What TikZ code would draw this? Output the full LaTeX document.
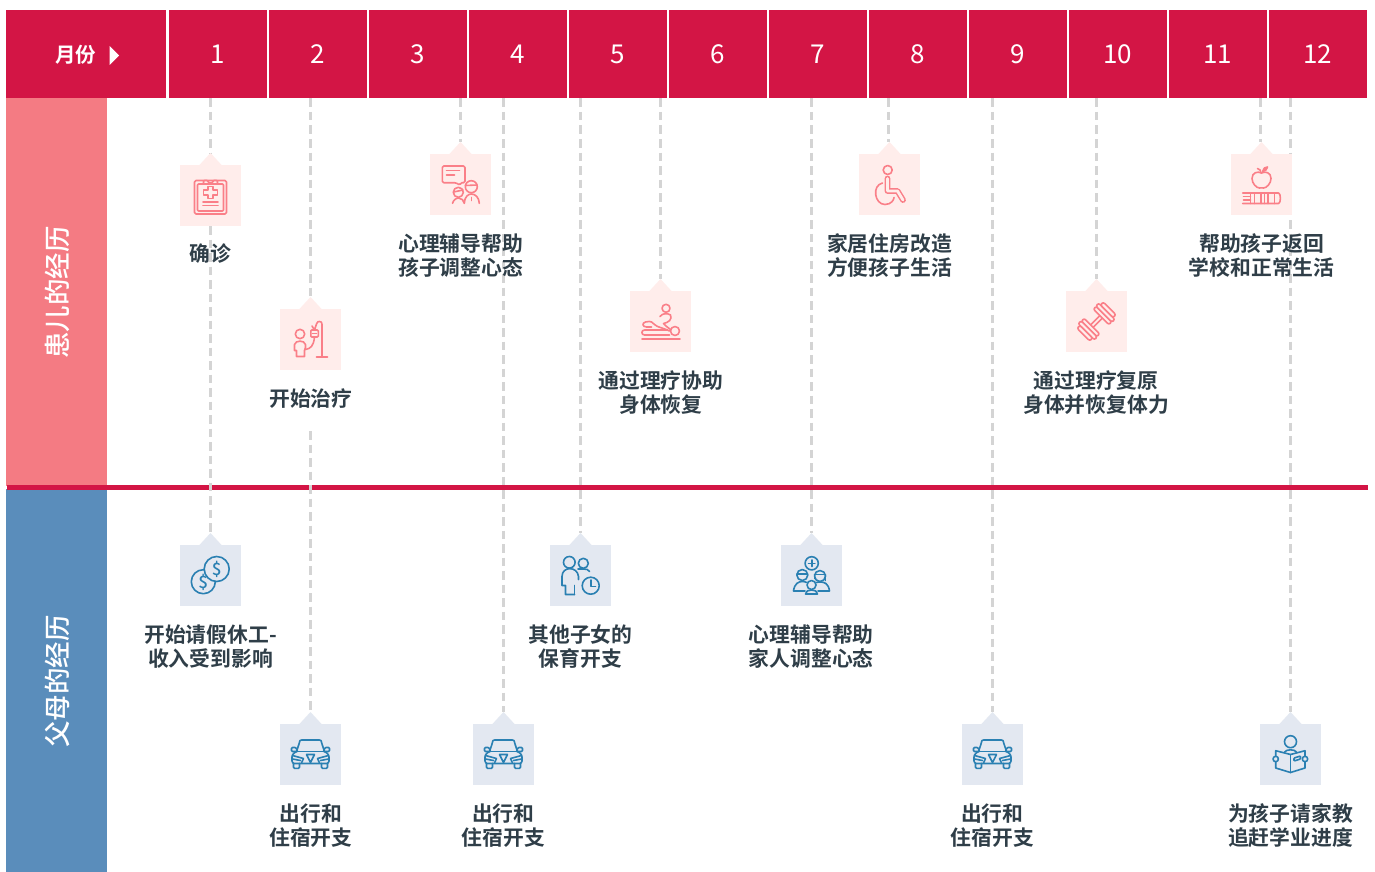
\documentclass[tikz,border=0pt]{standalone}
\usepackage{fontspec}
\setmainfont{Noto Sans CJK SC}
\newfontfamily\cjkb{Noto Sans CJK SC Bold}
\newfontfamily\cjkm{Noto Sans CJK SC Medium}
\definecolor{hdrred}{HTML}{D31545}
\definecolor{sidepink}{HTML}{F47B83}
\definecolor{sideblue}{HTML}{5A8DBB}
\definecolor{cardpink}{HTML}{FFEDEB}
\definecolor{cardblue}{HTML}{E3E8F1}
\definecolor{icpink}{HTML}{FA7F88}
\definecolor{icblue}{HTML}{2A80B2}
\definecolor{labtext}{HTML}{2F3E48}
\definecolor{dashgray}{HTML}{D4D4D4}
\tikzset{
 hcell/.style={fill=hdrred,draw=none,inner sep=0pt,text=white},
 sidetext/.style={text=white,rotate=90,font=\fontsize{26.5}{26.5}\selectfont\cjkm},
 conn/.style={draw=dashgray,line width=3pt,dash pattern=on 8.5pt off 5pt},
 cardbase/.style={rectangle,minimum width=61pt,minimum height=61pt,inner sep=0pt,draw=none},
 pinkcard/.style={cardbase,fill=cardpink},
 bluecard/.style={cardbase,fill=cardblue},
 lab/.style={text=labtext,align=center,font=\fontsize{20.8}{23.8}\selectfont\cjkb,inner sep=0pt},
 ic/.style={line width=1.6pt,line cap=round,line join=round,fill=none},
 pk/.style={ic,draw=icpink},
 bl/.style={ic,draw=icblue},
}
% card: name, cx, top, style, fill colour
\newcommand{\putcard}[5]{%
  \fill[#5] (#2-12,#3+1) -- (#2,#3-12) -- (#2+12,#3+1) -- cycle;
  \node[#4] (#1) at (#2,#3+30.5) {};
}
\begin{document}
\begin{tikzpicture}[x=1pt,y=-1pt]
\useasboundingbox (0,0) rectangle (1375,872);
\fill[white] (0,0) rectangle (1375,872);
% sidebars
\node[fill=sidepink,minimum width=101pt,minimum height=388pt,inner sep=0pt] (sideA) at (56.5,292) {};
\node[fill=sideblue,minimum width=101pt,minimum height=383pt,inner sep=0pt] (sideB) at (56.5,680.5) {};
\node[sidetext] (sideAt) at (57.5,292.5) {患儿的经历};
\node[sidetext] (sideBt) at (57.5,681.5) {父母的经历};
% divider
\node[fill=hdrred,minimum width=1361pt,minimum height=5pt,inner sep=0pt] (divider) at (687.5,487.5) {};
% header
\node[hcell,minimum width=159.5pt,minimum height=88.5pt] (m0) at (86.2,54.2) {};
\node[text=white,inner sep=0pt,font=\fontsize{20.5}{20.5}\selectfont\cjkb] (mt) at (75.5,54.5) {月份};
\fill[white] (109.5,46) -- (119,55.5) -- (109.5,65) -- cycle;
\foreach \n in {1,...,12}{
  \pgfmathsetmacro{\cx}{217.5+100*(\n-1)}
  \node[hcell,minimum width=98pt,minimum height=88.5pt] (m\n) at (\cx,54.2) {};
  \node[text=white,inner sep=0pt,anchor=base,font=\fontsize{26}{26}\selectfont] (mn\n) at (\cx,64) {\n};
}
% connector top ends
\foreach \nm/\x in {a/210.5,b/310.5,c/460.5,d/503.5,e/580.5,f/660.5,g/811.5,h/888.5,i/992.5,j/1096.5,k/1260.5,l/1290.5}{
  \coordinate (top\nm) at (\x,98.5);
}
\coordinate (resA) at (210.5,226);
\coordinate (resB) at (310.5,431);
\coordinate (pa) at (210.5,153);
\coordinate (pb) at (310.5,297);
\coordinate (pc) at (460.5,142);
\coordinate (pf) at (660.5,279);
\coordinate (ph) at (888.5,142);
\coordinate (pj) at (1096.5,279);
\coordinate (pk) at (1260.5,142);
\coordinate (qa) at (210.5,533);
\coordinate (qb) at (310.5,712);
\coordinate (qd) at (503.5,712);
\coordinate (qe) at (580.5,533);
\coordinate (qg) at (811.5,533);
\coordinate (qi) at (992.5,712);
\coordinate (ql) at (1290.5,712);
\draw[conn] (topa) -- (pa);
\draw[conn] (resA) -- (qa);
\draw[conn] (topb) -- (pb);
\draw[conn] (resB) -- (qb);
\draw[conn] (topc) -- (pc);
\draw[conn] (topd) -- (qd);
\draw[conn] (tope) -- (qe);
\draw[conn] (topf) -- (pf);
\draw[conn] (topg) -- (qg);
\draw[conn] (toph) -- (ph);
\draw[conn] (topi) -- (qi);
\draw[conn] (topj) -- (pj);
\draw[conn] (topk) -- (pk);
\draw[conn] (topl) -- (ql);
% cards
\putcard{c1}{210.5}{165}{pinkcard}{cardpink}
\putcard{c2}{310.5}{309}{pinkcard}{cardpink}
\putcard{c3}{460.5}{154}{pinkcard}{cardpink}
\putcard{c5}{660.5}{291}{pinkcard}{cardpink}
\putcard{c8}{889.5}{154}{pinkcard}{cardpink}
\putcard{c10}{1096.5}{291}{pinkcard}{cardpink}
\putcard{c12}{1261.5}{154}{pinkcard}{cardpink}
\putcard{d1}{210.5}{545}{bluecard}{cardblue}
\putcard{d2}{310.5}{724}{bluecard}{cardblue}
\putcard{d4}{503.5}{724}{bluecard}{cardblue}
\putcard{d5}{580.5}{545}{bluecard}{cardblue}
\putcard{d7}{811.5}{545}{bluecard}{cardblue}
\putcard{d9}{992.5}{724}{bluecard}{cardblue}
\putcard{d12}{1290.5}{724}{bluecard}{cardblue}
% labels
\node[lab] (l1) at (210.3,253.7) {确诊};
\node[lab] (l2) at (310.8,398.7) {开始治疗};
\node[lab] (l3) at (460.7,255.4) {心理辅导帮助\\孩子调整心态};
\node[lab] (l5) at (660.8,392.4) {通过理疗协助\\身体恢复};
\node[lab] (l8) at (889.5,255.4) {家居住房改造\\方便孩子生活};
\node[lab] (l10) at (1096,392.4) {通过理疗复原\\身体并恢复体力};
\node[lab] (l12) at (1261.7,255.4) {帮助孩子返回\\学校和正常生活};
\node[lab] (n1) at (210.5,646.4) {开始请假休工-\\收入受到影响};
\node[lab] (n2) at (310.8,825.4) {出行和\\住宿开支};
\node[lab] (n4) at (503.3,825.4) {出行和\\住宿开支};
\node[lab] (n5) at (580.5,646.4) {其他子女的\\保育开支};
\node[lab] (n7) at (811.3,646.4) {心理辅导帮助\\家人调整心态};
\node[lab] (n9) at (992.2,825.4) {出行和\\住宿开支};
\node[lab] (n12) at (1290.5,825.4) {为孩子请家教\\追赶学业进度};
% --- icons ---
% clipboard
\begin{scope}[shift={(c1.center)},pk]
 \draw[rounded corners=1.5pt] (-16,-15) rectangle (16,18.5);
 \draw[rounded corners=1pt] (-13,-11.5) rectangle (13,15.5);
 \draw[fill=cardpink,rounded corners=1pt] (-7,-11.5) -- (-7,-15) -- (-2.5,-15) arc (180:0:2.5) -- (7,-15) -- (7,-11.5) -- cycle;
 \draw (-2.5,-9) -- (2.5,-9) -- (2.5,-5.5) -- (7,-5.5) -- (7,-0.5) -- (2.5,-0.5) -- (2.5,3) -- (-2.5,3) -- (-2.5,-0.5) -- (-7,-0.5) -- (-7,-5.5) -- (-2.5,-5.5) -- cycle;
 \draw (-7.5,6.5) -- (7.5,6.5) (-7.5,10) -- (7.5,10);
\end{scope}
% child with drip
\begin{scope}[shift={(c2.center)},pk]
 \draw (-10.5,-5.5) circle (4.7);
 \draw (-6,17) -- (-6,11) -- (-5,8) -- (-5,5) .. controls (-6,0.5) and (-15,0.5) .. (-16,5) -- (-16,11) -- (-14,11) -- (-14,17) -- cycle;
 \draw (-5,10) .. controls (0,9) and (3,7) .. (4,-2.5);
 \draw[rounded corners=1pt] (0.3,-9.5) rectangle (7.8,-2.5);
 \draw (2,-6) -- (6,-6);
 \draw (4,-9.5) -- (1.5,-13.5) (4,-9.5) -- (6,-15.5) .. controls (6.5,-18) and (8,-18) .. (9,-18) .. controls (11,-18) and (11.5,-17) .. (11.5,-15) -- (11.5,17.5);
 \draw (6,17.5) -- (17,17.5);
\end{scope}
% counselling
\begin{scope}[shift={(c3.center)},pk]
 \draw[rounded corners=1.5pt] (-0.5,0.8) -- (-4.5,-1.8) -- (-18.2,-1.8) -- (-18.2,-18.5) -- (4.5,-18.5) -- (4.5,-1.8) -- (0,-1.8) -- cycle;
 \draw (-14,-14) -- (-1,-14) (-14,-9.5) -- (-6,-9.5);
 \draw[fill=cardpink] (-2.2,7.8) circle (5);
 \draw (-7,7.5) -- (2.5,5.5);
 \draw (-8,18.8) .. controls (-7,14.5) and (-3,13.5) .. (-2,13.5) .. controls (1,13.5) and (3.5,16) .. (3.8,18.8);
 \draw[fill=cardpink] (10.8,2.2) circle (6);
 \draw (5,1) -- (16.5,0.5);
 \draw (3.8,18.8) .. controls (4,12) and (8,9.5) .. (10.8,9.5) .. controls (15,9.5) and (18.5,13) .. (18.8,18.8);
 \draw (10.8,13) -- (10.8,16);
\end{scope}
% massage
\begin{scope}[shift={(c5.center)},pk]
 \draw (5.5,-13.2) circle (4);
 \draw (14.5,9.5) circle (4.5);
 \draw (-18.5,17.2) -- (19.5,17.2);
 \draw (-0.5,-5) .. controls (2,-8.5) and (7,-8.5) .. (10,-6.5) .. controls (12,-2) and (8,1) .. (3,2) .. controls (5,5) and (8,6) .. (10,8);
 \draw (-15,0.5) .. controls (-9,-1) and (-8,1) .. (-6,3) .. controls (-3,6) and (2,6) .. (9,9.5) ;
 \draw (-15,0.5) .. controls (-19,1.5) and (-18,5.5) .. (-14,5.5) -- (-9,5.5);
 \draw (-16,8.5) -- (7,8.5) (-16,8.5) .. controls (-19.5,8.5) and (-19.5,13.5) .. (-16,13.5) -- (9,13.5);
\end{scope}
% wheelchair
\begin{scope}[shift={(c8.center)},pk]
 \draw (-1.8,-14.5) circle (4.5);
 \draw (-7,-1.5) .. controls (-18,1) and (-15,20) .. (-4.5,20) .. controls (2,20) and (4.5,15) .. (4.5,13);
 \draw[double=cardpink,double distance=2.8pt,line width=1.5pt] (-2,-6) -- (-2,6.5) -- (8,6.5) -- (13.5,15.5);
\end{scope}
% dumbbell
\begin{scope}[shift={(c10.center)},rotate=45,pk]
 \draw (-7.5,-1.7) rectangle (7.5,1.7);
 \foreach \s in {1,-1}{
   \draw[fill=cardpink,rounded corners=2pt] (\s*6.5,-11) rectangle (\s*10.5,11);
   \draw[fill=cardpink,rounded corners=2pt] (\s*10.5,-11.5) rectangle (\s*14.5,11.5);
   \draw[fill=cardpink,rounded corners=2pt] (\s*14.5,-9) rectangle (\s*18.5,9);
 }
\end{scope}
% apple and books
\begin{scope}[shift={(c12.center)},pk]
 \draw (0,-11.5) .. controls (-4,-13.5) and (-9.5,-12) .. (-9.5,-6) .. controls (-9.5,-1) and (-5,3.5) .. (-2,3.5) .. controls (-1,3.5) and (1,3) .. (2,3.5) .. controls (5,3.5) and (9.5,-1) .. (9.5,-6) .. controls (9.5,-12) and (4,-13.5) .. (0,-11.5) -- cycle;
 \draw (-0.5,-11.5) .. controls (-0.5,-14) and (-2,-15.5) .. (-4,-16);
 \draw[fill=icpink] (1,-13) .. controls (1.5,-16) and (4,-18) .. (6,-17.5) .. controls (6,-15) and (3.5,-13.5) .. (1,-13);
 \draw (-18.8,8.5) -- (17,8.5) .. controls (19.5,8.5) and (19.5,19) .. (17,19) -- (-18.8,19);
 \draw (-18,12) -- (-11,12) (-18,15.5) -- (-11,15.5);
 \draw (-11,8.5) -- (-11,19) (-7,8.5) -- (-7,19) (-0.5,8.5) -- (-0.5,19) (3,8.5) -- (3,19) (6.5,8.5) -- (6.5,19) (13,8.5) -- (13,19);
\end{scope}
% coins
\begin{scope}[shift={(d1.center)},bl]
 \draw (-7.2,6.2) circle (12);
 \draw[fill=cardblue] (6.2,-6.5) circle (12.5);
 \node[text=icblue,inner sep=0pt,font=\fontsize{17}{17}\selectfont\cjkm] (dol1) at (6.2,-6.5) {\$};
 \node[text=icblue,inner sep=0pt,font=\fontsize{17}{17}\selectfont\cjkm] (dol2) at (-7.2,6.5) {\$};
\end{scope}
% cars
\foreach \cc in {d2,d4,d9}{
\begin{scope}[shift={(\cc.center)},bl]
 \draw[rounded corners=2pt] (-14,-3) -- (-11,-12) .. controls (-10.5,-14) and (-9,-14.5) .. (-7,-14.5) -- (7,-14.5) .. controls (9,-14.5) and (10.5,-14) .. (11,-12) -- (14,-3);
 \draw (-17,-3) -- (17,-3);
 \draw[rounded corners=2.5pt] (-14,-3) -- (-18.5,0) -- (-18.5,9) -- (18.5,9) -- (18.5,0) -- (14,-3);
 \draw[rounded corners=1pt] (-14,-3) -- (-19,-3) -- (-19,-7) -- (-14.5,-7) -- (-13,-3);
 \draw[rounded corners=1pt] (14,-3) -- (19,-3) -- (19,-7) -- (14.5,-7) -- (13,-3);
 \draw (-4,0) -- (4,0) -- (0,8) -- cycle;
 \draw (-18,1) -- (-7,4) -- (-9,8.5);
 \draw (18,1) -- (7,4) -- (9,8.5);
 \draw (-18,4.5) -- (-10,6);
 \draw (18,4.5) -- (10,6);
 \draw[rounded corners=1pt] (-17,9) -- (-17,13.8) -- (-11,13.8) -- (-11,9);
 \draw[rounded corners=1pt] (17,9) -- (17,13.8) -- (11,13.8) -- (11,9);
\end{scope}}
% parent and clock
\begin{scope}[shift={(d5.center)},bl]
 \draw (-11.2,-13.2) circle (5.8);
 \draw (2.8,-12.2) circle (5);
 \draw (-6,19) -- (-15,19) -- (-15,10) -- (-18.5,10) -- (-18.5,1) .. controls (-18.5,-9.5) and (-3,-9.5) .. (-2,1) -- (-2,4);
 \draw (-6,19) -- (-6,10);
 \draw (-2.5,-6.5) -- (3,-6.5) .. controls (6,-6.5) and (8,-6) .. (9,-4);
 \draw (10.2,10.2) circle (8.5);
 \draw (10.2,4.5) -- (10.2,10.8) -- (15,10.8);
\end{scope}
% group with plus
\begin{scope}[shift={(d7.center)},bl]
 \draw (0.2,-12.2) circle (6.6);
 \draw (0.2,-15.5) -- (0.2,-9) (-3,-12.2) -- (3.4,-12.2);
 \draw (-9.2,-0.5) circle (5.5);
 \draw (-14.5,-1.5) -- (-4,-1.5);
 \draw (8.5,0.5) circle (5.5);
 \draw (3,-1) -- (14,-1);
 \draw (14,-1) -- (14,5) (3,-1) -- (3,3);
 \draw (-18,15.5) .. controls (-17,8) and (-13,6) .. (-9,6) .. controls (-7,6) and (-6,6.5) .. (-5,7) (-18,15.5) -- (-6.5,15.5);
 \draw (18,15.5) .. controls (17,8) and (13,6.5) .. (9,6.5) .. controls (7,6.5) and (6,6.5) .. (5,7) (18,15.5) -- (6.5,15.5);
 \draw[fill=cardblue] (0,9.5) circle (4.5);
 \draw (-6,18.5) .. controls (-6,15.5) and (-3,14.5) .. (0,14.5) .. controls (3,14.5) and (6,15.5) .. (6,18.5) -- cycle;
\end{scope}
% reader
\begin{scope}[shift={(d12.center)},bl]
 \draw (0,-12.8) circle (6);
 \draw (0,0) -- (-14.8,-3.8) -- (-14.8,13.5) -- (0,18) -- (14.5,13.5) -- (14.5,-3.8) -- cycle;
 \draw (0,0) -- (0,18);
 \draw (-6,-2.3) .. controls (-5,-5.5) and (5,-5.5) .. (6,-2.3);
 \draw[fill=cardblue] (-14.8,4.5) circle (2.7);
 \draw[fill=cardblue] (14.5,4.5) circle (2.7);
 \draw[rounded corners=0.8pt] (3.5,3.5) -- (10,1.5) -- (10,4.5) -- (3.5,6.5) -- cycle;
\end{scope}
\end{tikzpicture}
\end{document}
